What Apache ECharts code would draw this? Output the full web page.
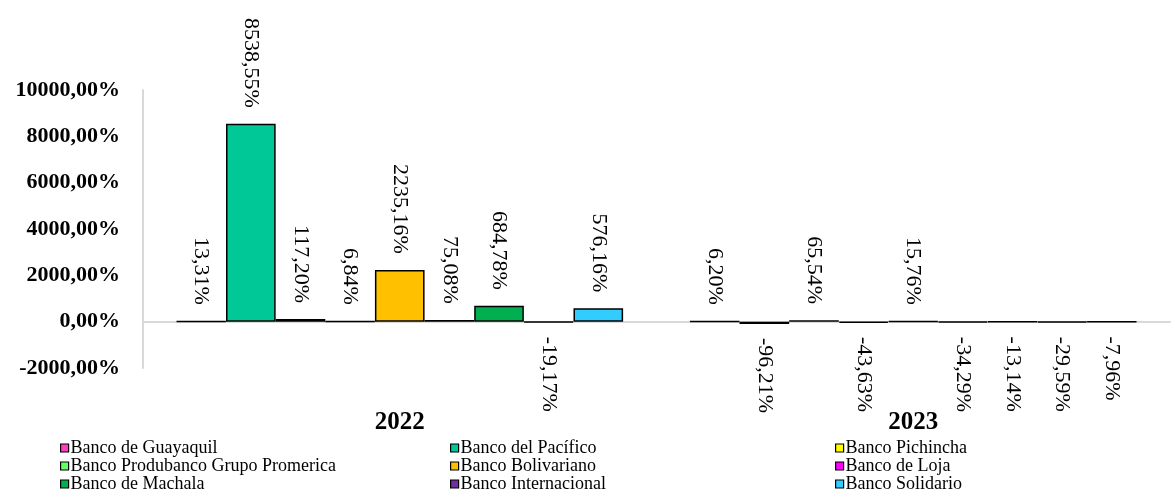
<!DOCTYPE html>
<html>
<head>
<meta charset="utf-8">
<script src="https://cdn.jsdelivr.net/npm/echarts@6/dist/echarts.min.js"></script>
<style>
  html, body { margin: 0; padding: 0; background: #fff; }
  #chart { width: 1172px; height: 493px; }
</style>
</head>
<body>
<div id="chart"></div>
<script>
var years = ['2022', '2023']
var banks = [
  'Banco de Guayaquil', 'Banco del Pacífico', 'Banco Pichincha',
  'Banco Produbanco Grupo Promerica', 'Banco Bolivariano', 'Banco de Loja',
  'Banco de Machala', 'Banco Internacional', 'Banco Solidario'
]
var colors = [
  '#FF3FBF', '#00C896', '#FFFF00',
  '#66FF66', '#FFC000', '#FF00FF',
  '#00B050', '#7030A0', '#33CCFF'
]
// growth per bank, [2022, 2023]
var guayaquil = [13.31, 6.20]
var pacifico = [8538.55, -96.21]
var pichincha = [117.20, 65.54]
var produbanco = [6.84, -43.63]
var bolivariano = [2235.16, 15.76]
var loja = [75.08, -34.29]
var machala = [684.78, -13.14]
var internacional = [-19.17, -29.59]
var solidario = [576.16, -7.96]
var values = [guayaquil, pacifico, pichincha, produbanco, bolivariano, loja, machala, internacional, solidario]

var yTicks = { min: -2000, max: 10000, interval: 2000 }

var serif = 'Liberation Serif, Times New Roman, serif'

function fmt(v) {
  return v.toFixed(2).replace('.', ',') + '%'
}

var series = banks.map(function (name, i) {
  return {
    name: name,
    type: 'bar',
    barGap: '0%',
    barCategoryGap: '13%',
    itemStyle: { color: colors[i], borderColor: '#000', borderWidth: 1.5 },
    label: {
      show: true,
      position: 'top',
      rotate: -90,
      align: 'right',
      verticalAlign: 'middle',
      distance: 16,
      fontFamily: serif,
      fontSize: 22,
      color: '#000',
      formatter: function (p) { return fmt(p.value) }
    },
    data: values[i].map(function (v) {
      // negative bars carry their label underneath
      if (v < 0) {
        return { value: v, label: { position: 'bottom', align: 'left', distance: 14 } }
      }
      return v
    })
  }
})

var legendCols = [
  { left: 60, data: [banks[0], banks[3], banks[6]] },
  { left: 450, data: [banks[1], banks[4], banks[7]] },
  { left: 835, data: [banks[2], banks[5], banks[8]] }
]

var chart = echarts.init(document.getElementById('chart'))
chart.setOption({
  backgroundColor: '#fff',
  animation: false,
  legend: legendCols.map(function (c) {
    return {
      orient: 'vertical',
      left: c.left,
      top: 439,
      padding: 0,
      itemGap: 0,
      itemWidth: 8,
      itemHeight: 8,
      icon: 'rect',
      itemStyle: { borderColor: '#000', borderWidth: 1.2 },
      textStyle: { fontFamily: serif, fontSize: 18, lineHeight: 17, color: '#000', padding: [0, 0, 0, -3] },
      data: c.data
    }
  }),
  grid: { left: 143, right: 2, top: 90, bottom: 125 },
  xAxis: {
    type: 'category',
    data: years,
    axisLine: { onZero: true, lineStyle: { color: '#d9d9d9', width: 2 } },
    axisTick: { show: false },
    axisLabel: {
      margin: 42,
      fontFamily: serif,
      fontWeight: 'bold',
      fontSize: 25,
      color: '#000'
    }
  },
  yAxis: {
    type: 'value',
    min: yTicks.min,
    max: yTicks.max,
    interval: yTicks.interval,
    axisLine: { show: true, lineStyle: { color: '#d9d9d9', width: 2 } },
    axisTick: { show: false },
    splitLine: { show: false },
    axisLabel: {
      margin: 23,
      fontFamily: serif,
      fontWeight: 'bold',
      fontSize: 22,
      color: '#000',
      formatter: function (v) { return fmt(v) }
    }
  },
  series: series
})
</script>
</body>
</html>
